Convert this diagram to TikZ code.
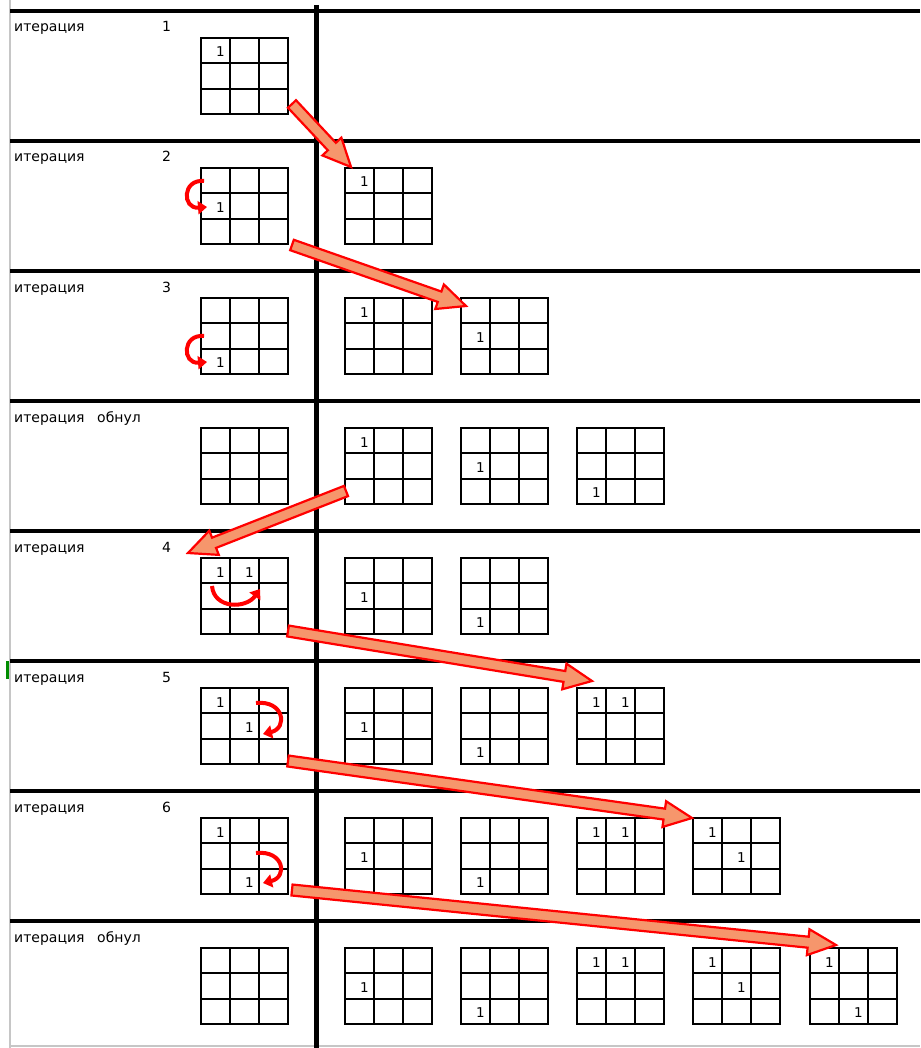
\documentclass[tikz,border=0pt]{standalone}
\usepackage{fontspec}
\setmainfont{DejaVu Sans}
\usetikzlibrary{calc,arrows.meta}
\tikzset{
 gridbox/.style={draw=black, line width=1.8pt, minimum width=87pt, minimum height=76pt, inner sep=0pt, outer sep=0pt, anchor=north west},
 gridline/.style={black, line width=1.8pt},
 one/.style={font=\fontsize{13.5}{13.5}\selectfont, inner sep=0pt, anchor=base},
 lbl/.style={font=\fontsize{14}{14}\selectfont, inner sep=0pt, anchor=base west},
 sepline/.style={black, line width=4.5pt},
 blockarrow/.style={draw=red, line width=2.2pt, fill={rgb,255:red,246;green,150;blue,108}, line join=miter},
 curv/.style={red, line width=4pt, -{Triangle[length=9pt,width=13pt]}},
}
\newcommand{\mygrid}[3]{%
 \node[gridbox] (#1) at (#2,#3) {};
 \draw[gridline] (#2+29,#3) -- (#2+29,#3+76) (#2+58,#3) -- (#2+58,#3+76)
   (#2,#3+25.33) -- (#2+87,#3+25.33) (#2,#3+50.67) -- (#2+87,#3+50.67);}
\newcommand{\myones}[2]{%
 \foreach \r/\c in {#2} {\node[one] (#1-\r\c) at ($(#1.north west)+(\c*29+19.5,\r*25.33+19)$) {1};}}
\newcommand{\blockarr}[2]{%
 \filldraw[blockarrow] ($(#1)!5.5pt!90:(#2)$) -- ($(#2)!28pt!(#1)!5.5pt!-90:(#1)$)
  -- ($(#2)!28pt!(#1)!13pt!-90:(#1)$) -- (#2) -- ($(#2)!28pt!(#1)!13pt!90:(#1)$)
  -- ($(#2)!28pt!(#1)!5.5pt!90:(#1)$) -- ($(#1)!5.5pt!-90:(#2)$) -- cycle;}
\begin{document}
\begin{tikzpicture}[x=1pt,y=-1pt]
\useasboundingbox (0,0) rectangle (920,1048);
\fill[white] (0,0) rectangle (920,1048);
% sheet borders
\draw[gray!45, line width=1.5pt] (10,0) -- (10,1048);
\draw[gray!45, line width=1.2pt] (10,1046) -- (920,1046);
\draw[green!55!black, line width=2.5pt] (7.5,661) -- (7.5,679);
% separators
\foreach \k in {0,...,7} {\draw[sepline] (10,11+130*\k) -- (920,11+130*\k);}
\draw[black, line width=5pt] (316,5) -- (316,1048);
% labels
\foreach \k/\n in {1/1,2/2,3/3,5/4,6/5,7/6} {
 \node[lbl] (it\k) at (14,32+130*\k-130) {итерация};
 \node[lbl] (num\k) at (162,32+130*\k-130) {\n};}
\foreach \k in {4,8} {
 \node[lbl] (it\k) at (14,32+130*\k-130) {итерация};
 \node[lbl] (num\k) at (97,32+130*\k-130) {обнул};}
% row 1
\mygrid{g1a}{201}{38} \myones{g1a}{0/0}
% row 2
\mygrid{g2a}{201}{168} \myones{g2a}{1/0}
\mygrid{g2b}{345}{168} \myones{g2b}{0/0}
% row 3
\mygrid{g3a}{201}{298} \myones{g3a}{2/0}
\mygrid{g3b}{345}{298} \myones{g3b}{0/0}
\mygrid{g3c}{461}{298} \myones{g3c}{1/0}
% row 4
\mygrid{g4a}{201}{428}
\mygrid{g4b}{345}{428} \myones{g4b}{0/0}
\mygrid{g4c}{461}{428} \myones{g4c}{1/0}
\mygrid{g4d}{577}{428} \myones{g4d}{2/0}
% row 5
\mygrid{g5a}{201}{558} \myones{g5a}{0/0,0/1}
\mygrid{g5b}{345}{558} \myones{g5b}{1/0}
\mygrid{g5c}{461}{558} \myones{g5c}{2/0}
% row 6
\mygrid{g6a}{201}{688} \myones{g6a}{0/0,1/1}
\mygrid{g6b}{345}{688} \myones{g6b}{1/0}
\mygrid{g6c}{461}{688} \myones{g6c}{2/0}
\mygrid{g6d}{577}{688} \myones{g6d}{0/0,0/1}
% row 7
\mygrid{g7a}{201}{818} \myones{g7a}{0/0,2/1}
\mygrid{g7b}{345}{818} \myones{g7b}{1/0}
\mygrid{g7c}{461}{818} \myones{g7c}{2/0}
\mygrid{g7d}{577}{818} \myones{g7d}{0/0,0/1}
\mygrid{g7e}{693}{818} \myones{g7e}{0/0,1/1}
% row 8
\mygrid{g8a}{201}{948}
\mygrid{g8b}{345}{948} \myones{g8b}{1/0}
\mygrid{g8c}{461}{948} \myones{g8c}{2/0}
\mygrid{g8d}{577}{948} \myones{g8d}{0/0,0/1}
\mygrid{g8e}{693}{948} \myones{g8e}{0/0,1/1}
\mygrid{g8f}{810}{948} \myones{g8f}{0/0,2/1}
% curved arrows
\coordinate (c2s) at (204,181); \coordinate (c2e) at (207,207);
\draw[curv] (c2s) .. controls (182,179) and (182,209) .. (c2e);
\coordinate (c3s) at (204,336); \coordinate (c3e) at (207,362);
\draw[curv] (c3s) .. controls (182,334) and (182,364) .. (c3e);
\coordinate (c5s) at (212,586); \coordinate (c5e) at (260,589);
\draw[curv] (c5s) .. controls (214,609) and (246,609) .. (c5e);
\coordinate (c6s) at (256,703); \coordinate (c6e) at (263,734);
\draw[curv] (c6s) .. controls (284,700) and (288,728) .. (c6e);
\coordinate (c7s) at (256,853); \coordinate (c7e) at (263,883);
\draw[curv] (c7s) .. controls (284,850) and (288,877) .. (c7e);
% block arrows
\coordinate (a1s) at (292,104); \coordinate (a1e) at (351,167);
\coordinate (a2s) at (292,245); \coordinate (a2e) at (466,306);
\coordinate (a3s) at (346,491); \coordinate (a3e) at (188,553);
\coordinate (a4s) at (288,631); \coordinate (a4e) at (592,681);
\coordinate (a5s) at (288,761); \coordinate (a5e) at (692,818);
\coordinate (a6s) at (292,890); \coordinate (a6e) at (836,945);
\blockarr{a1s}{a1e}
\blockarr{a2s}{a2e}
\blockarr{a3s}{a3e}
\blockarr{a4s}{a4e}
\blockarr{a5s}{a5e}
\blockarr{a6s}{a6e}
\end{tikzpicture}
\end{document}
